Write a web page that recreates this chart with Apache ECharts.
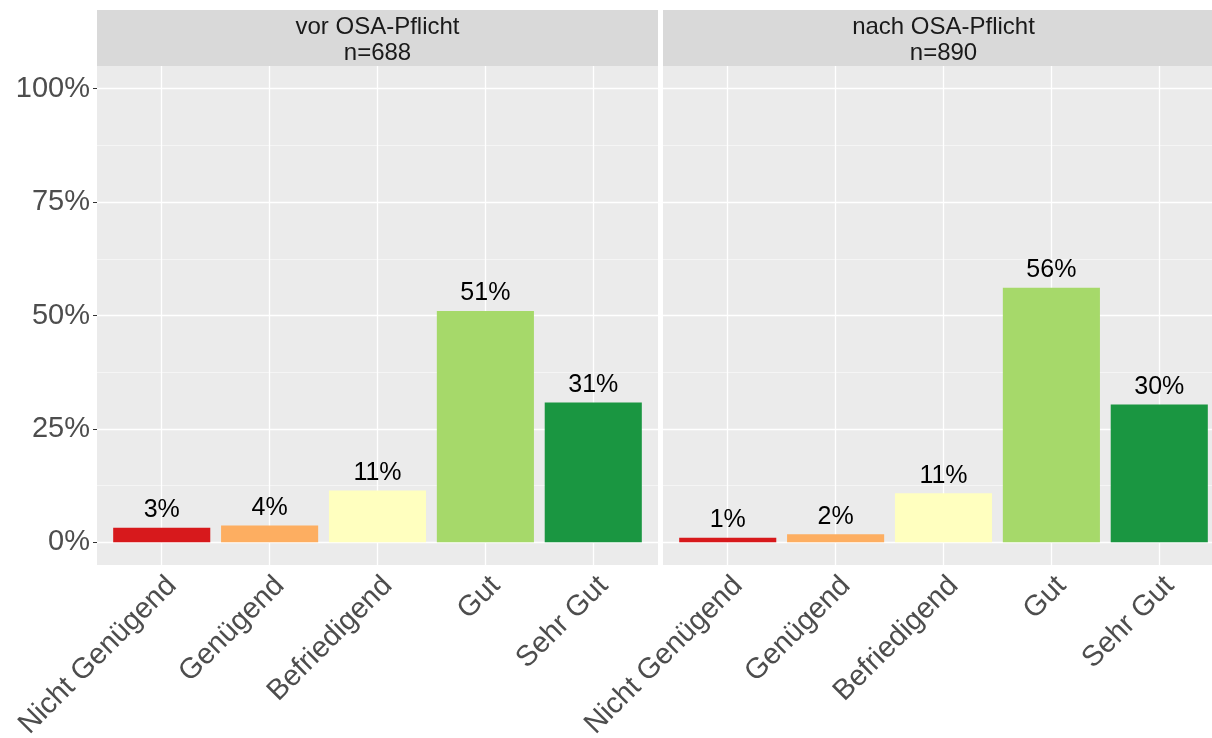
<!DOCTYPE html>
<html>
<head>
<meta charset="utf-8">
<script src="https://cdn.jsdelivr.net/npm/echarts@6/dist/echarts.min.js"></script>
<style>html,body{margin:0;padding:0;background:#fff}#c{width:1212px;height:738px}</style>
</head>
<body>
<div id="c"></div>
<script>
const categories = ['Nicht Genügend', 'Genügend', 'Befriedigend', 'Gut', 'Sehr Gut'];
const panelTitles = ['vor OSA-Pflicht', 'nach OSA-Pflicht'];
const panelN = [688, 890];
const valuesVor = [3.2, 3.7, 11.4, 51.0, 30.8];
const valuesNach = [1.0, 1.8, 10.8, 56.1, 30.4];
const barColors = ['#d7191c', '#fdae61', '#ffffbf', '#a6d96a', '#1a9641'];
const yTicks = [0, 25, 50, 75, 100];
const yMinor = [12.5, 37.5, 62.5, 87.5];

const FONT = 'Liberation Sans, Arial, sans-serif';
const chart = echarts.init(document.getElementById('c'), null, {renderer: 'canvas'});

const panels = [
  {left: 97, top: 66, width: 561, height: 499},
  {left: 663, top: 66, width: 561, height: 499}
];
const panelValues = [valuesVor, valuesNach];
const xIdx = categories.map((c, i) => i + 1);

const grids = panels.map(p => ({left: p.left, top: p.top, width: p.width, height: p.height,
  show: true, backgroundColor: '#ebebeb', borderWidth: 0, containLabel: false, outerBoundsMode: 'none'}));

const xAxes = panels.map((p, k) => ({
  type: 'value', gridIndex: k, min: 0.4, max: 5.6,
  axisLine: {show: false},
  splitLine: {show: false},
  axisTick: {show: true, customValues: xIdx, length: 4, lineStyle: {color: '#333333', width: 1}},
  axisLabel: {show: true, customValues: xIdx, rotate: 45, margin: 6, align: 'right', verticalAlign: 'top',
    formatter: v => categories[Math.round(v) - 1] || '',
    fontSize: 29, color: '#4d4d4d', fontFamily: FONT}
}));

const yAxes = panels.map((p, k) => ({
  type: 'value', gridIndex: k, min: -5, max: 105,
  axisLine: {show: false},
  splitLine: {show: false},
  axisTick: {show: k === 0, customValues: yTicks, length: 4, lineStyle: {color: '#333333', width: 1}},
  axisLabel: {show: k === 0, customValues: yTicks, margin: 7, formatter: v => v + '%',
    fontSize: 29, color: '#4d4d4d', fontFamily: FONT}
}));

const series = [];
panels.forEach((p, k) => {
  const vals = panelValues[k];
  series.push({
    type: 'line', xAxisIndex: k, yAxisIndex: k, data: [], silent: true,
    markLine: {
      silent: true, symbol: 'none', z: 1, animation: false,
      label: {show: false},
      data: [
        ...yMinor.map(v => ({yAxis: v, lineStyle: {color: '#f7f7f7', width: 0.8, type: 'solid'}})),
        ...yTicks.map(v => ({yAxis: v, lineStyle: {color: '#ffffff', width: 1.3, type: 'solid'}})),
        ...xIdx.map(v => ({xAxis: v, lineStyle: {color: '#ffffff', width: 1.3, type: 'solid'}}))
      ]
    }
  });
  series.push({
    type: 'bar', xAxisIndex: k, yAxisIndex: k, z: 3,
    barWidth: p.width / 5.2 * 0.9,
    data: vals.map((v, i) => ({value: [xIdx[i], v], itemStyle: {color: barColors[i]}})),
    label: {show: true, position: 'top', distance: 5, fontSize: 25, color: '#000000', fontFamily: FONT,
      formatter: prm => Math.round(prm.value[1]) + '%'},
    animation: false
  });
});

const graphic = [];
panels.forEach((p, k) => {
  graphic.push({type: 'rect', z: -1, shape: {x: p.left, y: 10, width: p.width, height: 56}, style: {fill: '#d9d9d9'}, silent: true});
  graphic.push({type: 'text', z: 10, x: p.left + p.width / 2, y: 40,
    style: {text: panelTitles[k] + '\nn=' + panelN[k], textAlign: 'center', textVerticalAlign: 'middle',
      font: '24px ' + FONT, fill: '#1a1a1a', lineHeight: 26}, silent: true});
});

chart.setOption({
  animation: false,
  backgroundColor: '#ffffff',
  grid: grids,
  xAxis: xAxes,
  yAxis: yAxes,
  series: series,
  graphic: graphic
});
</script>
</body>
</html>
